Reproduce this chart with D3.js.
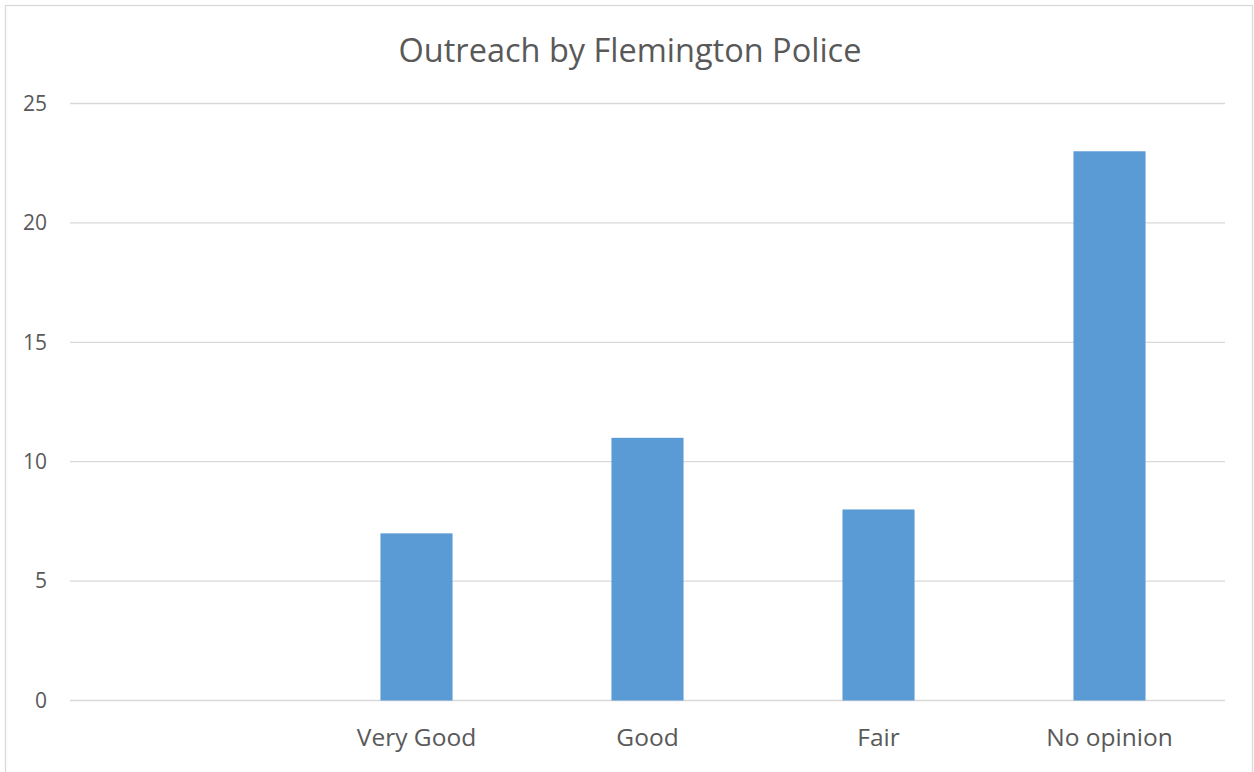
<!DOCTYPE html>
<html><head><meta charset="utf-8">
<script src="https://cdn.jsdelivr.net/npm/d3@7"></script>
<style>
html,body{margin:0;padding:0;background:#fff;}
svg text{font-family:"Open Sans",sans-serif;fill:#595959;}
</style></head>
<body>
<svg id="chart" width="1254" height="772"></svg>
<script>
const title = "Outreach by Flemington Police";
const categories = ["", "Very Good", "Good", "Fair", "No opinion"];
const values = [null, 7, 11, 8, 23];
const yTicks = [0, 5, 10, 15, 20, 25];

const svg = d3.select("#chart");
const W = 1254, H = 772;
const m = {left: 70, right: 29, top: 103.5, bottom: 71.5};

svg.append("rect").attr("x", 5.5).attr("y", 5.5).attr("width", W - 7).attr("height", H + 10)
  .attr("fill", "#fff").attr("stroke", "#d9d9d9").attr("stroke-width", 1.3);

const x = d3.scaleBand().domain(categories.map((c, i) => i)).range([m.left, W - m.right]).paddingInner(0.688).paddingOuter(0.344);
const y = d3.scaleLinear().domain([0, 25]).range([H - m.bottom, m.top]);

// gridlines
svg.append("g").selectAll("line").data(yTicks).join("line")
  .attr("x1", m.left).attr("x2", W - m.right)
  .attr("y1", d => y(d)).attr("y2", d => y(d))
  .attr("stroke", "#d9d9d9").attr("stroke-width", 1.3);

// y axis labels
const yAxis = d3.axisLeft(y).tickValues(yTicks).tickSize(0).tickPadding(0);
const gy = svg.append("g").attr("transform", `translate(47,0)`).call(yAxis);
gy.select(".domain").remove();
gy.selectAll("text").style("font-size", "21px").attr("fill", "#595959").style("font-family", '"Open Sans",sans-serif');

// bars
svg.append("g").selectAll("rect").data(values.map((v, i) => ({v, i})).filter(d => d.v != null)).join("rect")
  .attr("x", d => x(d.i)).attr("width", x.bandwidth())
  .attr("y", d => y(d.v)).attr("height", d => y(0) - y(d.v))
  .attr("fill", "#5b9bd5");

// x axis labels
const xAxis = d3.axisBottom(x).tickFormat(i => categories[i]).tickSize(0).tickPadding(0);
const gx = svg.append("g").attr("transform", `translate(0,729)`).call(xAxis);
gx.select(".domain").remove();
gx.selectAll("text").style("font-size", "24.5px").attr("fill", "#595959").style("font-family", '"Open Sans",sans-serif');

// title
svg.append("text").attr("x", 630).attr("y", 62).attr("text-anchor", "middle")
  .style("font-size", "32.5px").text(title);
</script>
</body></html>
